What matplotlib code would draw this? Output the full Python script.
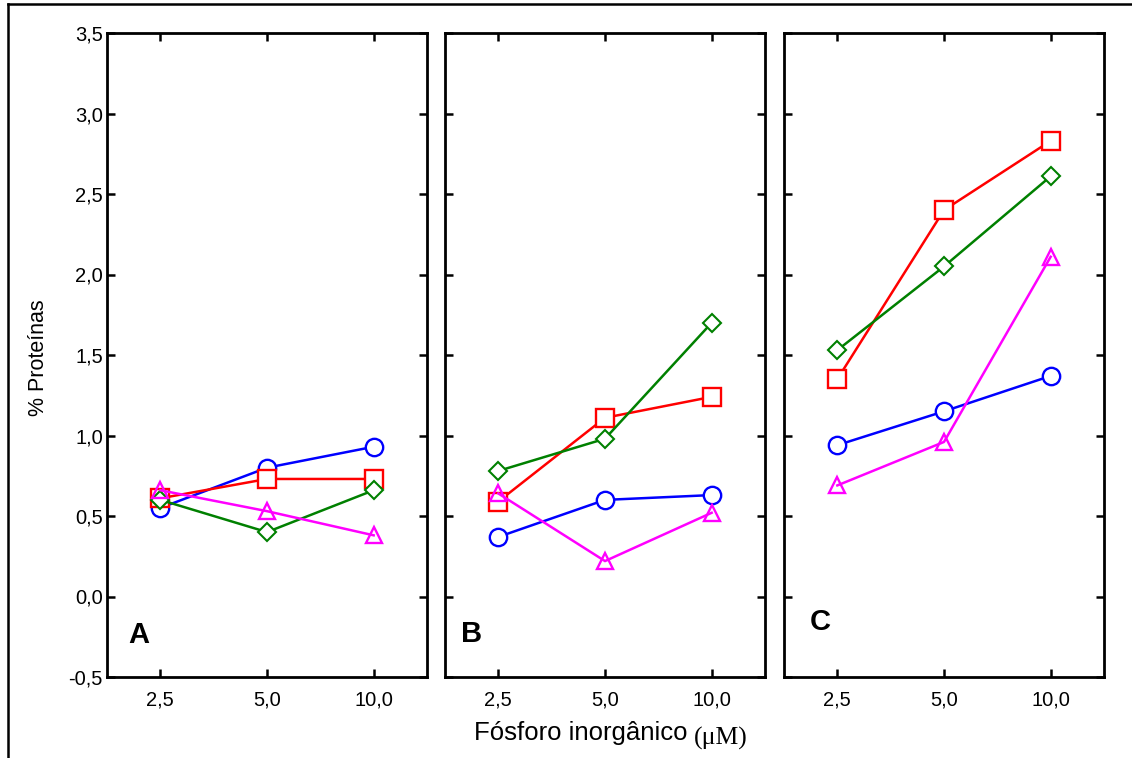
import numpy as np
import matplotlib.pyplot as plt
from matplotlib.lines import Line2D

plt.rcParams['font.family'] = ['Liberation Sans', 'DejaVu Sans']

# concentracoes de fosforo (categorias)
x_labels = ['2,5', '5,0', '10,0']
x = np.arange(1, 4)

# % proteinas por painel (azul, vermelho, verde, magenta)
A_circ = [0.55, 0.80, 0.93]
A_sq = [0.61, 0.73, 0.73]
A_dia = [0.60, 0.40, 0.66]
A_tri = [0.66, 0.53, 0.38]

B_circ = [0.37, 0.60, 0.63]
B_sq = [0.59, 1.11, 1.24]
B_dia = [0.78, 0.98, 1.70]
B_tri = [0.64, 0.22, 0.52]

C_circ = [0.94, 1.15, 1.37]
C_sq = [1.35, 2.40, 2.83]
C_dia = [1.53, 2.05, 2.61]
C_tri = [0.69, 0.96, 2.11]

panels = [('A', A_circ, A_sq, A_dia, A_tri),
          ('B', B_circ, B_sq, B_dia, B_tri),
          ('C', C_circ, C_sq, C_dia, C_tri)]

fig = plt.figure(figsize=(11.32, 7.58), dpi=100)
W, H = 1132, 758
lefts = [107, 445, 784]
width = 320
top, bottom = 33, 677

for i, (letra, circ, sq, dia, tri) in enumerate(panels):
    ax = fig.add_axes([lefts[i] / W, 1 - bottom / H, width / W, (bottom - top) / H])
    ax.plot(x, circ, color='#0000ff', lw=1.8, marker='o', ms=12.5, mfc='white', mew=1.7)
    ax.plot(x, sq, color='#ff0000', lw=1.8, marker='s', ms=13, mfc='white', mew=1.7)
    ax.plot(x, dia, color='#008000', lw=1.8, marker='D', ms=9, mfc='white', mew=1.5)
    ax.plot(x, tri, color='#ff00ff', lw=1.8, marker='^', ms=11, mfc='none', mew=1.7)
    ax.set_xlim(0.5, 3.5)
    ax.set_ylim(-0.5, 3.5)
    ax.set_xticks(x)
    ax.set_xticklabels(x_labels)
    ax.set_yticks(np.arange(-0.5, 3.51, 0.5))
    ax.tick_params(direction='in', top=True, right=True, length=6, width=1.8,
                   labelsize=14.5, pad=10)
    if i == 0:
        ax.set_yticklabels([f'{v:.1f}'.replace('.', ',') for v in np.arange(-0.5, 3.51, 0.5)])
        ax.tick_params(axis='y', pad=3)
    else:
        ax.set_yticklabels([])
    for s in ax.spines.values():
        s.set_linewidth(2)
    ypos = [-0.24, -0.23, -0.16][i]
    xpos = [0.066, 0.05, 0.08][i]
    ax.text(xpos, (ypos + 0.5) / 4, letra, transform=ax.transAxes, fontsize=21,
            fontweight='bold', va='center', ha='left')

fig.text(38 / W, 1 - 358 / H, '% Proteínas', rotation=90, fontsize=15.5,
         ha='center', va='center')
fig.text(474 / W, 1 - 733 / H, 'Fósforo inorgânico', fontsize=18.5,
         ha='left', va='center')
fig.text(694 / W, 1 - 738 / H, '(μM)', fontsize=18.5, family='Liberation Serif',
         ha='left', va='center')

# moldura
fig.add_artist(Line2D([8 / W, 1], [1 - 4 / H, 1 - 4 / H], color='black', lw=1.8))
fig.add_artist(Line2D([8 / W, 8 / W], [0, 1 - 4 / H], color='black', lw=1.8))

fig.savefig('out.png', dpi=100)
